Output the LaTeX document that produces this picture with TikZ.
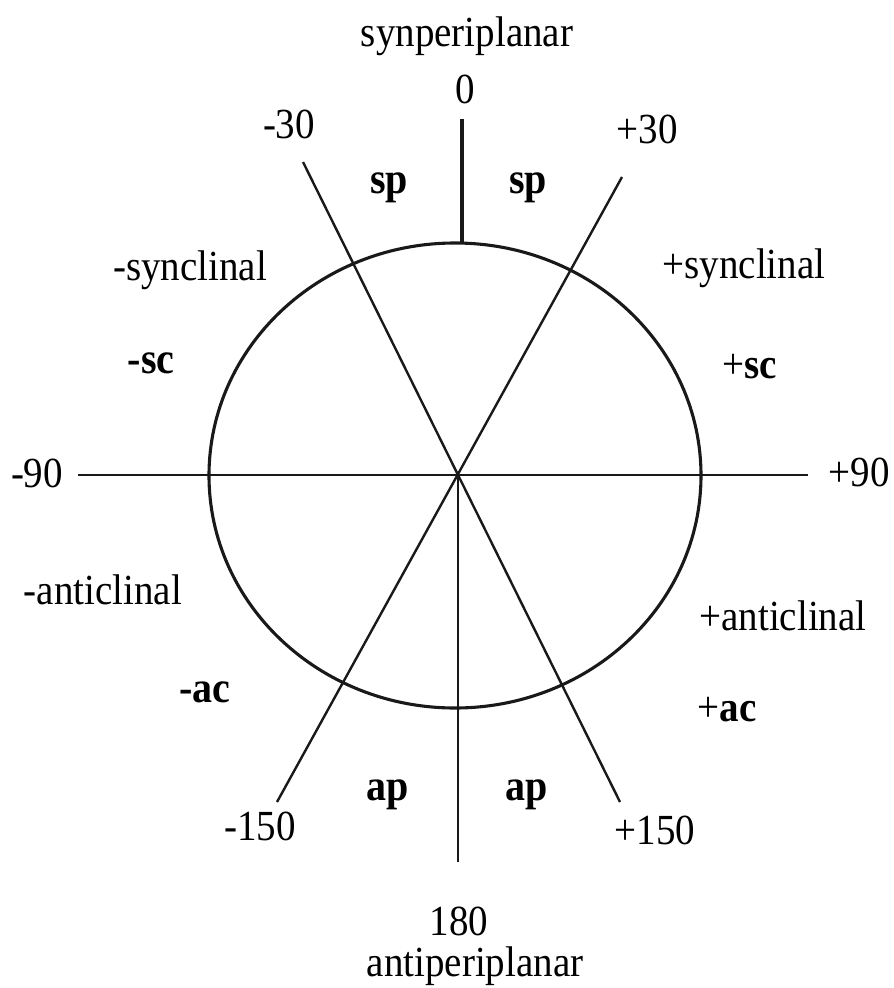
\documentclass[tikz,border=0pt]{standalone}
\usepackage{fontspec}
\setmainfont{Liberation Serif}
\newcommand{\tallt}[1]{\scalebox{1}[1.1]{#1}}
\begin{document}
\begin{tikzpicture}[x=1pt,y=-1pt,
  lbl/.style={inner sep=0pt,font=\fontsize{39}{45}\selectfont},
  blbl/.style={inner sep=0pt,font=\fontsize{40}{46}\selectfont\bfseries},
  axis/.style={line width=2.7pt,black!90},
  diag/.style={line width=2.4pt,black!90},
  ring/.style={line width=3.1pt,black!90}]
\useasboundingbox (0,0) rectangle (894,988);
% key points
\coordinate (O) at (458,475);
\coordinate (hl) at (78,475);
\coordinate (hr) at (808,475);
\coordinate (vt) at (462,119);
\coordinate (vtb) at (462,243);
\coordinate (vb) at (458,862);
\coordinate (m30) at (303,162);
\coordinate (p150) at (620,802);
\coordinate (p30) at (622,177);
\coordinate (m150) at (277,802);
% circle
\draw[ring] (455,475.5) ellipse [x radius=246, y radius=232.5];
% lines
\draw[axis] (hl) -- (hr);
\draw[ring] (vt) -- (vtb);
\draw[diag] (O) -- (vb);
\draw[diag] (m30) -- (p150);
\draw[diag] (p30) -- (m150);
% labels
\node[lbl] (syn) at (467,36) {\tallt{synperiplanar}};
\node[lbl] (l0) at (465,89) {\tallt{0}};
\node[lbl] (lm30) at (289,124) {\tallt{-30}};
\node[lbl] (lp30) at (647,129) {\tallt{+30}};
\node[blbl] (sp1) at (389,188) {\tallt{sp}};
\node[blbl] (sp2) at (528,188) {\tallt{sp}};
\node[lbl] (msyn) at (190,270) {\tallt{-synclinal}};
\node[lbl] (psyn) at (744,268) {\tallt{+synclinal}};
\node[blbl] (msc) at (151,363) {\tallt{-sc}};
\node[lbl] (psc) at (750,367) {\tallt{+\textbf{sc}}};
\node[lbl] (lm90) at (37,473) {\tallt{-90}};
\node[lbl] (lp90) at (859,472) {\tallt{+90}};
\node[lbl] (manti) at (103,590) {\tallt{-anticlinal}};
\node[lbl] (panti) at (783,616) {\tallt{+anticlinal}};
\node[blbl] (mac) at (205,692) {\tallt{-ac}};
\node[lbl] (pac) at (727,710) {\tallt{+\textbf{ac}}};
\node[blbl] (ap1) at (388,795) {\tallt{ap}};
\node[blbl] (ap2) at (527,795) {\tallt{ap}};
\node[lbl] (lm150) at (260,826) {\tallt{-150}};
\node[lbl] (lp150) at (655,830) {\tallt{+150}};
\node[lbl] (l180) at (459,921) {\tallt{180}};
\node[lbl] (anti) at (475,966) {\tallt{antiperiplanar}};
\end{tikzpicture}
\end{document}
